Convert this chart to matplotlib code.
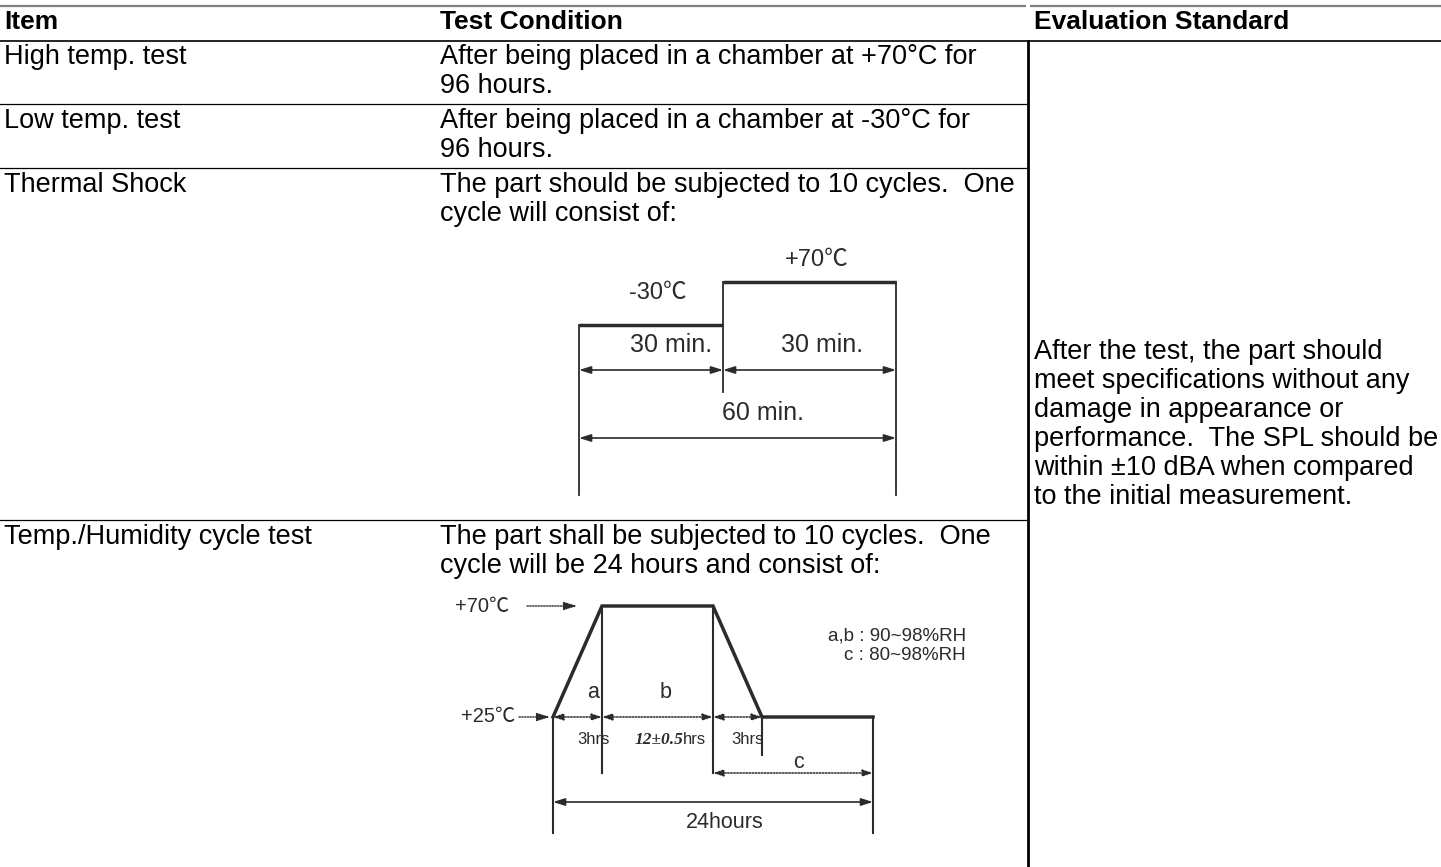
import numpy as np
import matplotlib
matplotlib.use("Agg")
import matplotlib.pyplot as plt
from matplotlib.transforms import blended_transform_factory

plt.rcParams['font.family'] = ['Liberation Sans', 'Noto Sans CJK SC', 'DejaVu Sans']

# ---------------- data ----------------
headers = ["Item", "Test Condition", "Evaluation Standard"]
items = ["High temp. test", "Low temp. test", "Thermal Shock", "Temp./Humidity cycle test"]
conditions = [
    ["After being placed in a chamber at +70°C for", "96 hours."],
    ["After being placed in a chamber at -30°C for", "96 hours."],
    ["The part should be subjected to 10 cycles.  One", "cycle will consist of:"],
    ["The part shall be subjected to 10 cycles.  One", "cycle will be 24 hours and consist of:"],
]
evaluation = [
    "After the test, the part should",
    "meet specifications without any",
    "damage in appearance or",
    "performance.  The SPL should be",
    "within \u00b110 dBA when compared",
    "to the initial measurement.",
]

shock_minutes = [0, 30, 60]
shock_temps = [-30, 70]
shock_temp_labels = ["-30\u2103", "+70\u2103"]
shock_step_labels = ["30 min.", "30 min."]
shock_total_label = "60 min."

humid_hours = [0, 3, 15, 18, 24]
humid_temps = [25, 70, 70, 25, 25]
humid_level_labels = ["+70\u2103", "+25\u2103"]
humid_phase_labels = ["a", "b"]
humid_step_labels = ["3hrs", "12\u00b10.5", "3hrs"]
humid_c_label = "c"
humid_total_label = "24hours"
humid_rh_labels = ["a,b : 90~98%RH", "c : 80~98%RH"]

# ---------------- layout ----------------
W, H = 1441, 867
fig = plt.figure(figsize=(W / 100, H / 100), dpi=100)
ax = fig.add_axes([0, 0, 1, 1])
ax.set_xlim(0, W)
ax.set_ylim(H, 0)
ax.axis('off')

FS = 19.5
FSH = 19
col_x = [4, 440, 1034]
vline_x = 1028
header_y = 22
header_line = 40.5
row_lines = [104, 168, 520]
row_text_y = [57, 121, 185, 537]
gap = 29
eval_y0 = 352

# table lines
ax.plot([0, vline_x - 2], [5.5, 5.5], color='#808080', lw=1.6, solid_capstyle='butt')
ax.plot([vline_x + 2, W], [5.5, 5.5], color='#808080', lw=1.6, solid_capstyle='butt')
ax.plot([0, W], [header_line, header_line], color='black', lw=1.2)
for y in row_lines:
    ax.plot([0, vline_x - 1], [y, y], color='black', lw=0.9)
ax.plot([vline_x, vline_x], [header_line, H], color='black', lw=2.0)

# header
for x, h in zip(col_x, headers):
    ax.text(x, header_y, h, fontsize=FSH, fontweight='bold', ha='left', va='center')

# rows
for y, it, cond in zip(row_text_y, items, conditions):
    ax.text(col_x[0], y, it, fontsize=FS, ha='left', va='center')
    for k, line in enumerate(cond):
        ax.text(col_x[1], y + k * gap, line, fontsize=FS, ha='left', va='center')

for k, line in enumerate(evaluation):
    ax.text(col_x[2], eval_y0 + k * gap, line, fontsize=FS, ha='left', va='center')

DC = '#2b2b2b'


def px_axes(x0, x1, y0, y1):
    a = fig.add_axes([x0 / W, 1 - y1 / H, (x1 - x0) / W, (y1 - y0) / H])
    a.axis('off')
    return a


def seg_scale(a, breaks, fracs):
    fwd = lambda v: np.interp(v, breaks, fracs)
    inv = lambda v: np.interp(v, fracs, breaks)
    a.set_xscale('function', functions=(fwd, inv))
    a.set_xlim(breaks[0], breaks[-1])


def arrow(tr, x0, x1, y, style='<|-|>', ls='-', lw=1.2, hl=0.7, hw=0.22):
    ax.annotate('', xy=(x1, y), xytext=(x0, y), xycoords=tr, textcoords=tr,
                arrowprops=dict(arrowstyle=f'{style},head_length={hl},head_width={hw}',
                                color=DC, lw=lw, ls=ls, shrinkA=0, shrinkB=0))

# ---------------- thermal shock diagram ----------------
T_L, T_R, T_TOP, T_BOT = 579, 896, 282, 325
tax = px_axes(T_L, T_R, T_TOP, T_BOT)
seg_scale(tax, shock_minutes, [0, 144 / 317, 1])
tax.set_ylim(min(shock_temps), max(shock_temps))
for i, temp in enumerate(shock_temps):
    tax.plot(shock_minutes[i:i + 2], [temp, temp], color=DC, lw=2.5, clip_on=False,
             solid_capstyle='butt')
tb = blended_transform_factory(tax.transData, ax.transData)
ax.plot([shock_minutes[0]] * 2, [T_BOT, 495], color=DC, lw=1.3, transform=tb)
ax.plot([shock_minutes[1]] * 2, [T_TOP, 392], color=DC, lw=1.3, transform=tb)
ax.plot([shock_minutes[2]] * 2, [T_TOP, 495], color=DC, lw=1.3, transform=tb)
arrow(tb, shock_minutes[0], shock_minutes[1], 370)
arrow(tb, shock_minutes[1], shock_minutes[2], 370)
arrow(tb, shock_minutes[0], shock_minutes[2], 438)
ax.text(658, 293, shock_temp_labels[0], fontsize=17, color=DC, ha='center', va='center')
ax.text(817, 260, shock_temp_labels[1], fontsize=17, color=DC, ha='center', va='center')
ax.text(671, 345, shock_step_labels[0], fontsize=18, color=DC, ha='center', va='center')
ax.text(822, 345, shock_step_labels[1], fontsize=18, color=DC, ha='center', va='center')
ax.text(763, 413, shock_total_label, fontsize=18, color=DC, ha='center', va='center')

# ---------------- temp / humidity diagram ----------------
H_L, H_R, H_TOP, H_BOT = 553, 873, 606, 717
hax = px_axes(H_L, H_R, H_TOP, H_BOT)
seg_scale(hax, humid_hours, [0, 49 / 320, 160 / 320, 209 / 320, 1])
hax.set_ylim(min(humid_temps), max(humid_temps))
hax.plot(humid_hours, humid_temps, color=DC, lw=2.5, clip_on=False,
         solid_joinstyle='miter')
hb = blended_transform_factory(hax.transData, ax.transData)
hh = humid_hours
ax.plot([hh[0]] * 2, [H_BOT, 833], color=DC, lw=1.5, transform=hb)
ax.plot([hh[1]] * 2, [H_TOP, 773], color=DC, lw=1.5, transform=hb)
ax.plot([hh[2]] * 2, [H_TOP, 773], color=DC, lw=1.5, transform=hb)
ax.plot([hh[3]] * 2, [H_BOT, 755], color=DC, lw=1.5, transform=hb)
ax.plot([hh[4]] * 2, [H_BOT, 833], color=DC, lw=1.5, transform=hb)
dots = (0, (1, 1))
arrow(hb, hh[0], hh[1], H_BOT, ls=dots, lw=1.1, hl=0.6, hw=0.2)
arrow(hb, hh[1], hh[2], H_BOT, ls=dots, lw=1.1, hl=0.6, hw=0.2)
arrow(hb, hh[2], hh[3], H_BOT, ls=dots, lw=1.1, hl=0.6, hw=0.2)
arrow(hb, hh[2], hh[4], 773, ls=dots, lw=1.1, hl=0.6, hw=0.2)
arrow(hb, hh[0], hh[4], 802, lw=1.2)
# level pointers
arrow(ax.transData, 527, 577, H_TOP, style='-|>', ls=dots, lw=1.0, hl=0.8, hw=0.25)
arrow(ax.transData, 519, 550, H_BOT, style='-|>', ls=dots, lw=1.0, hl=0.8, hw=0.25)
ax.text(482, H_TOP, humid_level_labels[0], fontsize=14.5, color=DC, ha='center', va='center')
ax.text(488, H_BOT, humid_level_labels[1], fontsize=14.5, color=DC, ha='center', va='center')
ax.text(593, 693, humid_phase_labels[0], fontsize=15.5, color=DC, ha='center', va='center')
ax.text(666, 693, humid_phase_labels[1], fontsize=15.5, color=DC, ha='center', va='center')
ax.text(594, 740, humid_step_labels[0], fontsize=12, color=DC, ha='center', va='center')
ax.text(683, 740, humid_step_labels[1], fontsize=12.5, color=DC, ha='right', va='center',
        family='Liberation Serif', style='italic', fontweight='bold')
ax.text(683, 740, 'hrs', fontsize=12, color=DC, ha='left', va='center')
ax.text(748, 740, humid_step_labels[2], fontsize=12, color=DC, ha='center', va='center')
ax.text(798, 762, humid_c_label, fontsize=15.5, color=DC, ha='center', va='center')
ax.text(725, 823, humid_total_label, fontsize=15.5, color=DC, ha='center', va='center')
ax.text(966, 636, humid_rh_labels[0], fontsize=13.5, color=DC, ha='right', va='center')
ax.text(966, 656, humid_rh_labels[1], fontsize=13.5, color=DC, ha='right', va='center')

fig.savefig('out.png', dpi=100)
